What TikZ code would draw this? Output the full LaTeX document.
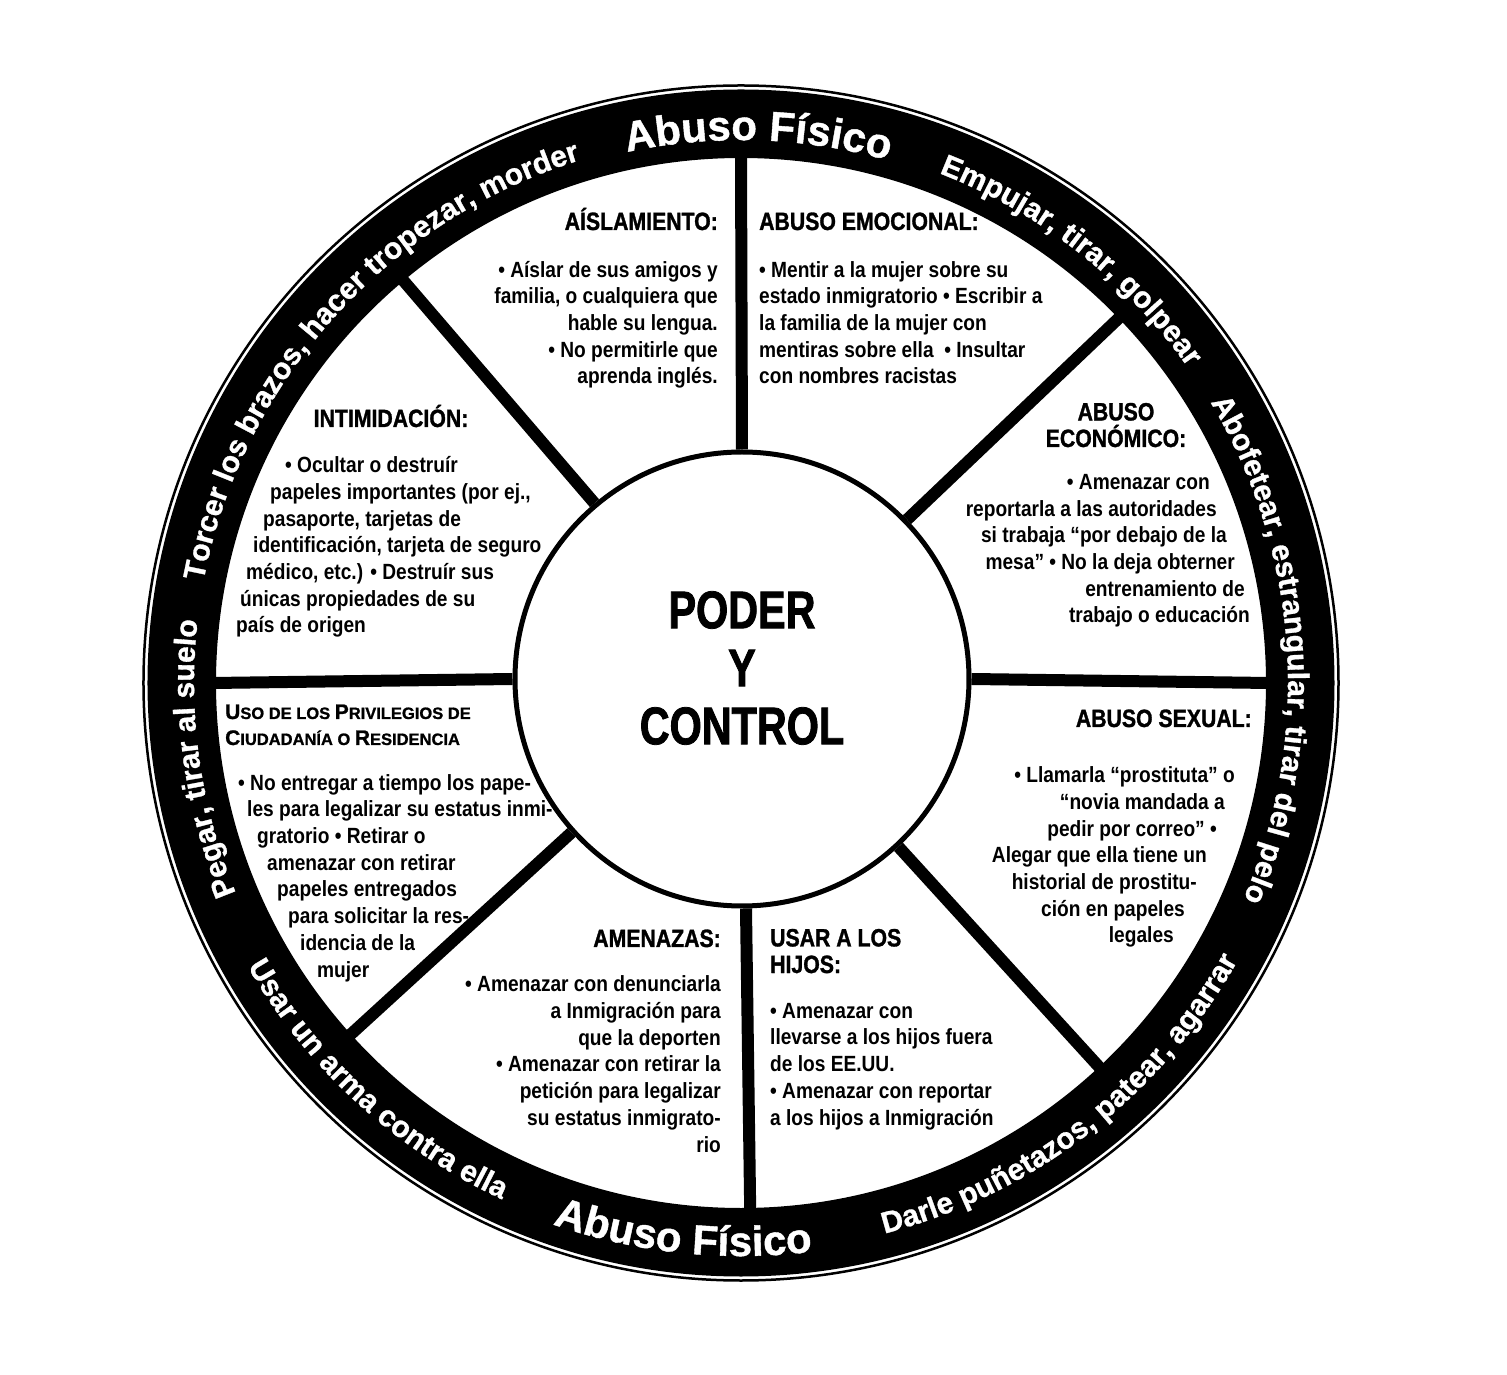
\documentclass[tikz,border=0pt]{standalone}
\usepackage{fontspec}
\setmainfont{Liberation Sans}
\newfontfamily\sectfont{Liberation Sans}[FakeStretch=0.87]
\newfontfamily\headfont{Liberation Sans}[FakeStretch=0.85,FakeBold=1.2]
\newfontfamily\hubfont{Liberation Sans}[FakeStretch=0.78,FakeBold=1.5]
\newfontfamily\ringfont{Liberation Sans}[FakeBold=1]
\usetikzlibrary{decorations.text}
\newcommand\ringsmall{\ringfont\bfseries\fontsize{30}{30}\selectfont}
\newcommand\ringbig{\ringfont\bfseries\fontsize{42}{42}\selectfont}
\newcommand\smc[2]{{\fontsize{21}{26}\selectfont #1}{\fontsize{16.5}{26}\selectfont #2}}
\newcommand\rgap[1]{\rule{#1}{0pt}}

\begin{document}
\begin{tikzpicture}[x=1pt,y=1pt,
  spoke/.style={line width=12pt},
  head/.style={font=\headfont\bfseries\fontsize{25}{26.6}\selectfont,inner sep=0pt},
  body/.style={font=\sectfont\bfseries\fontsize{22}{26.7}\selectfont,inner sep=0pt},
  ringtext/.style={decorate,decoration={text along path,text align=center,text color=white,text={|\ringsmall|#1}}},
  ringtitle/.style={decorate,decoration={text along path,text align=center,text color=white,text={|\ringbig|#1}}}]
\useasboundingbox (-741,-692) rectangle (766,683);
\fill[white] (-741,-692) rectangle (766,683);
% Outer ring
\fill[black,even odd rule] (0,0) circle[radius=593.5] (0,0) circle[radius=525];
\draw[line width=2.5pt] (0,0) circle[radius=597.5];
% Ring texts
\path[ringtext={Torcer los brazos, hacer tropezar, morder}] (180.2:547) arc[start angle=180.2,end angle=96.2,radius=547];
\path[ringtitle={Abuso Físico}] (108.2:543) arc[start angle=108.2,end angle=68.2,radius=543];
\path[ringtext={Empujar, tirar, golpear}] (72:547) arc[start angle=72,end angle=32,radius=547];
\path[ringtext={Abofetear, estrangular, tirar del pelo}] (33.8:547) arc[start angle=33.8,end angle=-26.2,radius=547];
\path[ringtext={Darle puñetazos, patear, agarrar}] (282.7:569) arc[start angle=282.7,end angle=332.7,radius=569];
\path[ringtitle={Abuso Físico}] (249:573) arc[start angle=249,end angle=279,radius=573];
\path[ringtext={Usar un arma contra ella}] (207.5:569) arc[start angle=207.5,end angle=247.5,radius=569];
\path[ringtext={Pegar, tirar al suelo}] (206:547) arc[start angle=206,end angle=170,radius=547];
% Hub
\node[draw,circle,line width=5pt,fill=white,minimum size=454pt,inner sep=0pt] (hub) at (1,4) {};
\node[font=\hubfont\bfseries\fontsize{53}{58}\selectfont,align=center,inner sep=0pt] (poder) at (1,15) {PODER\\Y\\CONTROL};
% Spokes
\draw[spoke] (hub.90) -- (90:528);
\draw[spoke] (hub.44) -- (44:528);
\draw[spoke] (hub.0) -- (0:528);
\draw[spoke] (hub.313) -- (313:528);
\draw[spoke] (hub.271) -- (271:528);
\draw[spoke] (hub.222) -- (222:528);
\draw[spoke] (hub.180) -- (180:528);
\draw[spoke] (hub.130) -- (130:528);
% Sectors (base = last line)
\node[head,anchor=base east] (ais) at (-23,453) {AÍSLAMIENTO:};
\node[body,align=right,anchor=base east] (aistx) at (-23,299) {• Aíslar de sus amigos y\\familia, o cualquiera que\\hable su lengua.\\• No permitirle que\\aprenda inglés.};
\node[head,anchor=base west] (emo) at (18,453) {ABUSO EMOCIONAL:};
\node[body,align=left,anchor=base west] (emotx) at (18,299) {• Mentir a la mujer sobre su\\estado inmigratorio • Escribir a\\la familia de la mujer con\\mentiras sobre ella~ • Insultar\\con nombres racistas};
\node[head,anchor=base] (inti) at (-350,256) {INTIMIDACIÓN:};
\node[body,align=left,anchor=base west] (intitx) at (-505,50) {\hspace*{49pt}• Ocultar o destruír\\\hspace*{34pt}papeles importantes (por ej.,\\\hspace*{27pt}pasaporte, tarjetas de\\\hspace*{17pt}identificación, tarjeta de seguro\\\hspace*{10pt}médico, etc.) • Destruír sus\\\hspace*{4pt}únicas propiedades de su\\país de origen};
\node[head,align=center,anchor=base] (eco) at (375,236) {ABUSO\\ECONÓMICO:};
\node[body,align=right,anchor=base east] (ecotx) at (509,60) {• Amenazar con\rgap{40pt}\\reportarla a las autoridades\rgap{33pt}\\si trabaja “por debajo de la\rgap{23pt}\\mesa” • No la deja obterner\rgap{15pt}\\entrenamiento de\rgap{5pt}\\trabajo o educación};
\node[font=\ringfont\bfseries\fontsize{21}{26}\selectfont,inner sep=0pt,align=left,anchor=base west] (uso) at (-516,-62) {\smc{U}{SO DE LOS }\smc{P}{RIVILEGIOS DE}\\\smc{C}{IUDADANÍA O }\smc{R}{ESIDENCIA}};
\node[body,align=left,anchor=base west] (usotx) at (-503,-294) {• No entregar a tiempo los pape-\\\hspace*{9pt}les para legalizar su estatus inmi-\\\hspace*{19pt}gratorio • Retirar o\\\hspace*{29pt}amenazar con retirar\\\hspace*{39pt}papeles entregados\\\hspace*{50pt}para solicitar la res-\\\hspace*{62pt}idencia de la\\\hspace*{79pt}mujer};
\node[head,anchor=base east] (sex) at (511,-44) {ABUSO SEXUAL:};
\node[body,align=right,anchor=base east] (sextx) at (494,-260) {• Llamarla “prostituta” o\\“novia mandada a\rgap{10pt}\\pedir por correo” •\rgap{18pt}\\Alegar que ella tiene un\rgap{28pt}\\historial de prostitu-\rgap{38pt}\\ción en papeles\rgap{50pt}\\legales\rgap{61pt}};
\node[head,anchor=base east] (ame) at (-20,-264) {AMENAZAS:};
\node[body,align=right,anchor=base east] (ametx) at (-20,-469) {• Amenazar con denunciarla\\a Inmigración para\\que la deporten\\• Amenazar con retirar la\\petición para legalizar\\su estatus inmigrato-\\rio};
\node[head,align=left,anchor=base west] (hij) at (29,-290) {USAR A LOS\\HIJOS:};
\node[body,align=left,anchor=base west] (hijtx) at (29,-442) {• Amenazar con\\llevarse a los hijos fuera\\de los EE.UU.\\• Amenazar con reportar\\a los hijos a Inmigración};
\end{tikzpicture}
\end{document}
